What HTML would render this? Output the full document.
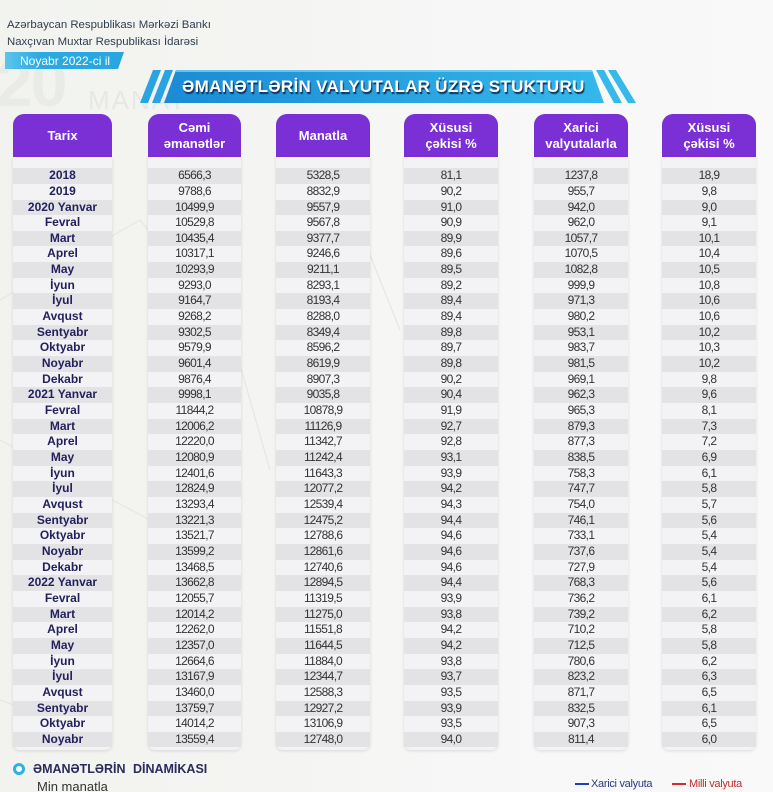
<!DOCTYPE html>
<html><head><meta charset="utf-8">
<style>
*{margin:0;padding:0;box-sizing:border-box}
html,body{width:773px;height:792px;overflow:hidden}
body{position:relative;font-family:"Liberation Sans",sans-serif;background:linear-gradient(90deg,#f2f3ef 0%,#f4f5f2 35%,#f7f7f7 60%,#f9f9f9 100%)}
.abs{position:absolute}
.hdr1{left:7px;top:19px;font-size:11.4px;color:#2e3d4f;line-height:13px;white-space:nowrap}
.wm20{left:-4px;top:50px;font-size:66px;font-weight:bold;color:#e9ebe6;line-height:66px;letter-spacing:-2px}
.wmman{left:88px;top:86px;font-size:26px;color:#e7e7e5;line-height:28px;letter-spacing:2px}
.col{position:absolute;top:114px;height:636px}
.head{height:43px;background:#7b30d6;border-radius:11px 11px 0 0;color:#fff;font-weight:bold;display:flex;align-items:center;justify-content:center;text-align:center;font-size:13px;line-height:16px}
.body{height:593px;background:#f3f3f5;border-radius:0 0 7px 7px;box-shadow:0 1px 3px rgba(0,0,0,0.12);padding-top:11.2px}
.r{height:15.667px;line-height:15.667px;text-align:center;font-size:12px;color:#333;letter-spacing:-0.65px;white-space:nowrap}
.r:nth-child(odd){background:#e3e3e6}
.t .r{font-weight:bold;color:#23215c;font-size:12px;letter-spacing:0}
</style></head><body>

<div class="abs wm20">20</div>
<div class="abs wmman">MANAT</div>
<svg class="abs" style="left:0;top:0" width="773" height="792">
  <g stroke="#e6e7e4" stroke-width="1.2" fill="none">
    <line x1="0" y1="300" x2="140" y2="220"/>
    <line x1="140" y1="220" x2="230" y2="330"/>
    <line x1="230" y1="330" x2="270" y2="470"/>
    <line x1="0" y1="440" x2="150" y2="520"/>
    <line x1="340" y1="180" x2="400" y2="330"/>
    <line x1="0" y1="700" x2="110" y2="740"/>
  </g>
</svg>

<div class="abs hdr1">Azərbaycan Respublikası Mərkəzi Bankı</div>
<div class="abs hdr1" style="top:35.5px">Naxçıvan Muxtar Respublikası İdarəsi</div>
<svg class="abs" style="left:0;top:0" width="773" height="120">
  <defs>
    <linearGradient id="nb" x1="0" x2="1" y1="0" y2="0">
      <stop offset="0" stop-color="#5cc4ee"/><stop offset="0.3" stop-color="#2aaae3"/><stop offset="1" stop-color="#27a6e0"/>
    </linearGradient>
    <linearGradient id="bn" x1="0" x2="1" y1="0" y2="0">
      <stop offset="0" stop-color="#1b8bd5"/><stop offset="1" stop-color="#34b8eb"/>
    </linearGradient>
  </defs>
  <polygon points="5,52 124,52 118,69 5,69" fill="url(#nb)"/>
  <polygon points="153,70 161,70 148,103 140,103" fill="#2aa3e2"/>
  <polygon points="165,70 173,70 160,103 152,103" fill="#2aa3e2"/>
  <polygon points="176,70 592,70 604,103 164,103" fill="url(#bn)"/>
  <line x1="176" y1="71" x2="592" y2="71" stroke="#7fd3f5" stroke-width="1.5"/>
  <polygon points="596,70 604,70 622,103 614,103" fill="#35b8ea"/>
  <polygon points="608,70 616,70 636,103 628,103" fill="#35b8ea"/>
</svg>
<div class="abs" style="left:20px;top:53.5px;font-size:12px;color:#fff;line-height:15px;white-space:nowrap">Noyabr 2022-ci il</div>
<div class="abs" style="left:182px;top:77px;font-size:17px;font-weight:bold;color:#fff;line-height:20px;letter-spacing:0.3px;white-space:nowrap;text-shadow:1px 2px 1px #0e2f5a">ƏMANƏTLƏRİN VALYUTALAR ÜZRƏ STUKTURU</div>

<div class="col t" style="left:13px;width:99px">
 <div class="head">Tarix</div>
 <div class="body">
  <div class="r">2018</div><div class="r">2019</div><div class="r">2020 Yanvar</div><div class="r">Fevral</div><div class="r">Mart</div><div class="r">Aprel</div><div class="r">May</div><div class="r">İyun</div><div class="r">İyul</div><div class="r">Avqust</div><div class="r">Sentyabr</div><div class="r">Oktyabr</div><div class="r">Noyabr</div><div class="r">Dekabr</div><div class="r">2021 Yanvar</div><div class="r">Fevral</div><div class="r">Mart</div><div class="r">Aprel</div><div class="r">May</div><div class="r">İyun</div><div class="r">İyul</div><div class="r">Avqust</div><div class="r">Sentyabr</div><div class="r">Oktyabr</div><div class="r">Noyabr</div><div class="r">Dekabr</div><div class="r">2022 Yanvar</div><div class="r">Fevral</div><div class="r">Mart</div><div class="r">Aprel</div><div class="r">May</div><div class="r">İyun</div><div class="r">İyul</div><div class="r">Avqust</div><div class="r">Sentyabr</div><div class="r">Oktyabr</div><div class="r">Noyabr</div>
 </div>
</div>

<div class="col" style="left:148px;width:93px">
 <div class="head">Cəmi<br>əmanətlər</div>
 <div class="body">
  <div class="r">6566,3</div><div class="r">9788,6</div><div class="r">10499,9</div><div class="r">10529,8</div><div class="r">10435,4</div><div class="r">10317,1</div><div class="r">10293,9</div><div class="r">9293,0</div><div class="r">9164,7</div><div class="r">9268,2</div><div class="r">9302,5</div><div class="r">9579,9</div><div class="r">9601,4</div><div class="r">9876,4</div><div class="r">9998,1</div><div class="r">11844,2</div><div class="r">12006,2</div><div class="r">12220,0</div><div class="r">12080,9</div><div class="r">12401,6</div><div class="r">12824,9</div><div class="r">13293,4</div><div class="r">13221,3</div><div class="r">13521,7</div><div class="r">13599,2</div><div class="r">13468,5</div><div class="r">13662,8</div><div class="r">12055,7</div><div class="r">12014,2</div><div class="r">12262,0</div><div class="r">12357,0</div><div class="r">12664,6</div><div class="r">13167,9</div><div class="r">13460,0</div><div class="r">13759,7</div><div class="r">14014,2</div><div class="r">13559,4</div>
 </div>
</div>

<div class="col" style="left:276px;width:94px">
 <div class="head">Manatla</div>
 <div class="body">
  <div class="r">5328,5</div><div class="r">8832,9</div><div class="r">9557,9</div><div class="r">9567,8</div><div class="r">9377,7</div><div class="r">9246,6</div><div class="r">9211,1</div><div class="r">8293,1</div><div class="r">8193,4</div><div class="r">8288,0</div><div class="r">8349,4</div><div class="r">8596,2</div><div class="r">8619,9</div><div class="r">8907,3</div><div class="r">9035,8</div><div class="r">10878,9</div><div class="r">11126,9</div><div class="r">11342,7</div><div class="r">11242,4</div><div class="r">11643,3</div><div class="r">12077,2</div><div class="r">12539,4</div><div class="r">12475,2</div><div class="r">12788,6</div><div class="r">12861,6</div><div class="r">12740,6</div><div class="r">12894,5</div><div class="r">11319,5</div><div class="r">11275,0</div><div class="r">11551,8</div><div class="r">11644,5</div><div class="r">11884,0</div><div class="r">12344,7</div><div class="r">12588,3</div><div class="r">12927,2</div><div class="r">13106,9</div><div class="r">12748,0</div>
 </div>
</div>

<div class="col" style="left:404px;width:94px">
 <div class="head">Xüsusi<br>çəkisi %</div>
 <div class="body">
  <div class="r">81,1</div><div class="r">90,2</div><div class="r">91,0</div><div class="r">90,9</div><div class="r">89,9</div><div class="r">89,6</div><div class="r">89,5</div><div class="r">89,2</div><div class="r">89,4</div><div class="r">89,4</div><div class="r">89,8</div><div class="r">89,7</div><div class="r">89,8</div><div class="r">90,2</div><div class="r">90,4</div><div class="r">91,9</div><div class="r">92,7</div><div class="r">92,8</div><div class="r">93,1</div><div class="r">93,9</div><div class="r">94,2</div><div class="r">94,3</div><div class="r">94,4</div><div class="r">94,6</div><div class="r">94,6</div><div class="r">94,6</div><div class="r">94,4</div><div class="r">93,9</div><div class="r">93,8</div><div class="r">94,2</div><div class="r">94,2</div><div class="r">93,8</div><div class="r">93,7</div><div class="r">93,5</div><div class="r">93,9</div><div class="r">93,5</div><div class="r">94,0</div>
 </div>
</div>

<div class="col" style="left:534px;width:94px">
 <div class="head">Xarici<br>valyutalarla</div>
 <div class="body">
  <div class="r">1237,8</div><div class="r">955,7</div><div class="r">942,0</div><div class="r">962,0</div><div class="r">1057,7</div><div class="r">1070,5</div><div class="r">1082,8</div><div class="r">999,9</div><div class="r">971,3</div><div class="r">980,2</div><div class="r">953,1</div><div class="r">983,7</div><div class="r">981,5</div><div class="r">969,1</div><div class="r">962,3</div><div class="r">965,3</div><div class="r">879,3</div><div class="r">877,3</div><div class="r">838,5</div><div class="r">758,3</div><div class="r">747,7</div><div class="r">754,0</div><div class="r">746,1</div><div class="r">733,1</div><div class="r">737,6</div><div class="r">727,9</div><div class="r">768,3</div><div class="r">736,2</div><div class="r">739,2</div><div class="r">710,2</div><div class="r">712,5</div><div class="r">780,6</div><div class="r">823,2</div><div class="r">871,7</div><div class="r">832,5</div><div class="r">907,3</div><div class="r">811,4</div>
 </div>
</div>

<div class="col" style="left:662px;width:94px">
 <div class="head">Xüsusi<br>çəkisi %</div>
 <div class="body">
  <div class="r">18,9</div><div class="r">9,8</div><div class="r">9,0</div><div class="r">9,1</div><div class="r">10,1</div><div class="r">10,4</div><div class="r">10,5</div><div class="r">10,8</div><div class="r">10,6</div><div class="r">10,6</div><div class="r">10,2</div><div class="r">10,3</div><div class="r">10,2</div><div class="r">9,8</div><div class="r">9,6</div><div class="r">8,1</div><div class="r">7,3</div><div class="r">7,2</div><div class="r">6,9</div><div class="r">6,1</div><div class="r">5,8</div><div class="r">5,7</div><div class="r">5,6</div><div class="r">5,4</div><div class="r">5,4</div><div class="r">5,4</div><div class="r">5,6</div><div class="r">6,1</div><div class="r">6,2</div><div class="r">5,8</div><div class="r">5,8</div><div class="r">6,2</div><div class="r">6,3</div><div class="r">6,5</div><div class="r">6,1</div><div class="r">6,5</div><div class="r">6,0</div>
 </div>
</div>

<div class="abs" style="left:13px;top:763px;width:12px;height:12px;border-radius:50%;border:3.5px solid #2bb3e8;background:#fff"></div>
<div class="abs" style="left:33px;top:762px;font-size:12.5px;font-weight:bold;color:#2a2a5c;line-height:15px;word-spacing:4px;white-space:nowrap">ƏMANƏTLƏRİN DİNAMİKASI</div>
<div class="abs" style="left:37px;top:779px;font-size:13px;color:#333;line-height:16px;white-space:nowrap">Min manatla</div>

<div class="abs" style="left:575px;top:783px;width:14px;height:2px;background:#1f3fbf"></div>
<div class="abs" style="left:591px;top:778px;font-size:11px;color:#2a3a8c;line-height:13px;white-space:nowrap;letter-spacing:-0.3px">Xarici valyuta</div>
<div class="abs" style="left:672px;top:783px;width:14px;height:2px;background:#d42a2a"></div>
<div class="abs" style="left:689px;top:778px;font-size:11px;color:#c42a2a;line-height:13px;white-space:nowrap;letter-spacing:-0.3px">Milli valyuta</div>
</body></html>
